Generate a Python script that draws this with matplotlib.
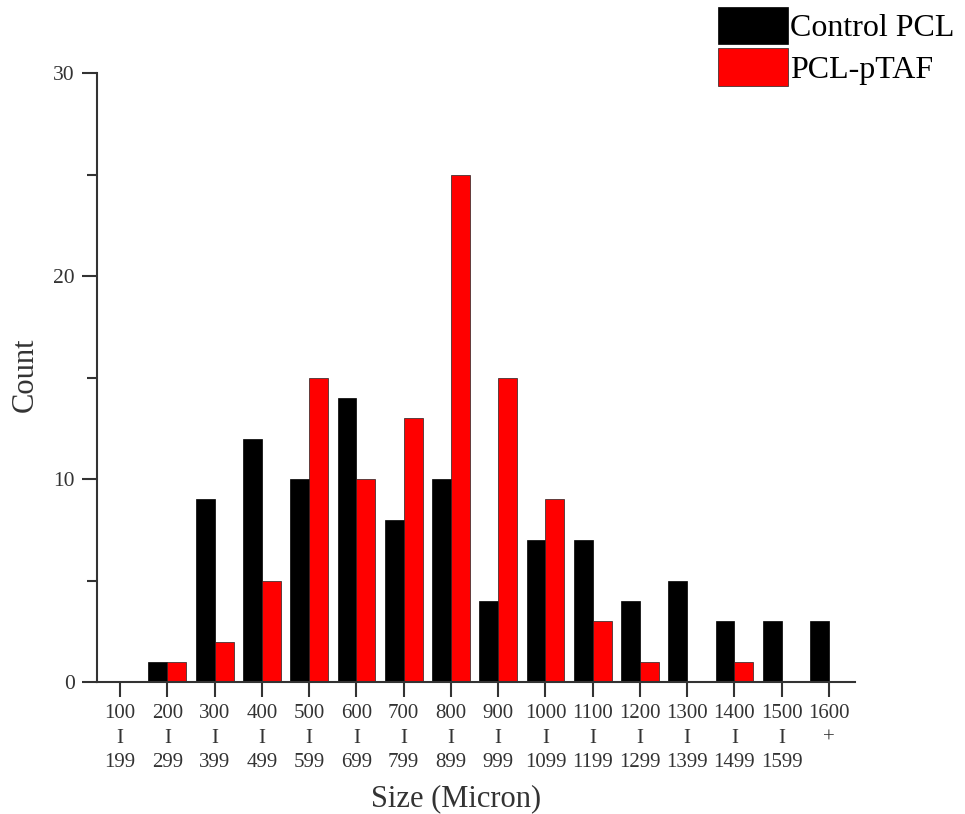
import matplotlib
matplotlib.use("Agg")
import matplotlib.pyplot as plt
import numpy as np
from matplotlib.ticker import MultipleLocator

plt.rcParams['font.family'] = ['Liberation Serif', 'DejaVu Serif']

bins_lo = ["100", "200", "300", "400", "500", "600", "700", "800", "900",
           "1000", "1100", "1200", "1300", "1400", "1500", "1600"]
bins_hi = ["199", "299", "399", "499", "599", "699", "799", "899", "999",
           "1099", "1199", "1299", "1399", "1499", "1599", ""]
control_pcl = [0, 1, 9, 12, 10, 14, 8, 10, 4, 7, 7, 4, 5, 3, 3, 3]
pcl_ptaf = [0, 1, 2, 5, 15, 10, 13, 25, 15, 9, 3, 1, 0, 1, 0, 0]

tick_labels = [f"{lo}\nI\n{hi}" if hi else f"{lo}\n+\n" for lo, hi in zip(bins_lo, bins_hi)]

fig = plt.figure(figsize=(9.65, 8.14), dpi=100)
ax = fig.add_axes([0.1005, 0.162, 0.7855, 0.748])

x = np.arange(len(bins_lo))
w = 0.4
ax.bar(x - w/2, control_pcl, width=w, color='black', edgecolor='black', linewidth=0.5, label='Control PCL')
ax.bar(x + w/2, pcl_ptaf, width=w, color='#ff0000', edgecolor='#222222', linewidth=0.5, label='PCL-pTAF')

ax.set_xlim(-0.49, 15.55)
ax.set_ylim(0, 30)
ax.set_xticks(x)
ax.set_xticklabels(tick_labels, fontsize=15, linespacing=1.38, color='#333333')
ax.yaxis.set_major_locator(MultipleLocator(10))
ax.yaxis.set_minor_locator(MultipleLocator(5))
for lab in ax.get_yticklabels():
    lab.set_fontsize(15.5)
    lab.set_color('#333333')

for s in ['top', 'right']:
    ax.spines[s].set_visible(False)
for s in ['left', 'bottom']:
    ax.spines[s].set_linewidth(1.5)
    ax.spines[s].set_color('#333333')

ax.tick_params(axis='both', which='major', direction='out', length=11, width=1.5, color='#333333')
ax.tick_params(axis='y', which='minor', direction='out', length=7, width=1.5, color='#333333')
ax.tick_params(axis='x', pad=5)
ax.tick_params(axis='y', pad=5)

ax.set_xlabel('Size (Micron)', fontsize=22, color='#333333')
ax.xaxis.set_label_coords((456 - 97) / (855 - 97), -(799 - 682) / (682 - 73), transform=ax.transAxes)
ax.xaxis.label.set_va('center')
ax.set_ylabel('Count', fontsize=22, color='#333333')
ax.yaxis.set_label_coords(-(97 - 25) / (855 - 97), (682 - 375) / (682 - 73), transform=ax.transAxes)
ax.yaxis.label.set_va('center')

leg = fig.legend(loc='upper left', bbox_to_anchor=(0.744, 0.992), frameon=False,
                 fontsize=23, handlelength=2.2, handleheight=1.45, labelspacing=0.12,
                 handletextpad=0.05, borderpad=0, borderaxespad=0)

fig.savefig('out.png', dpi=100)
